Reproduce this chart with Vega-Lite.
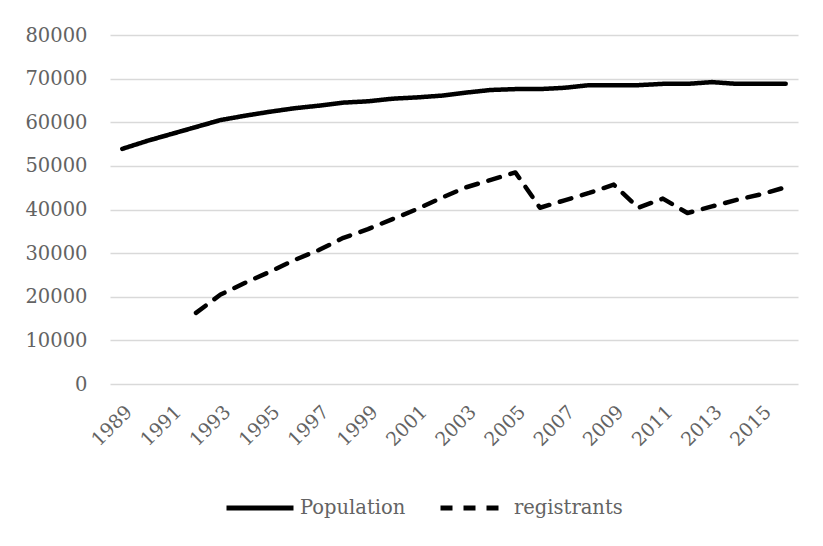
{
  "$schema": "https://vega.github.io/schema/vega-lite/v6.json",
  "width": 688,
  "height": 349,
  "autosize": {"type": "none"},
  "padding": {"left": 110, "top": 35, "right": 25, "bottom": 162},
  "background": "white",
  "config": {
    "view": {"stroke": null},
    "font": "DejaVu Serif"
  },
  "data": {
    "values": [
      {"year": 1989, "series": "Population", "value": 53900},
      {"year": 1990, "series": "Population", "value": 55700},
      {"year": 1991, "series": "Population", "value": 57300},
      {"year": 1992, "series": "Population", "value": 58900},
      {"year": 1993, "series": "Population", "value": 60500},
      {"year": 1994, "series": "Population", "value": 61500},
      {"year": 1995, "series": "Population", "value": 62400},
      {"year": 1996, "series": "Population", "value": 63200},
      {"year": 1997, "series": "Population", "value": 63800},
      {"year": 1998, "series": "Population", "value": 64500},
      {"year": 1999, "series": "Population", "value": 64800},
      {"year": 2000, "series": "Population", "value": 65400},
      {"year": 2001, "series": "Population", "value": 65700},
      {"year": 2002, "series": "Population", "value": 66100},
      {"year": 2003, "series": "Population", "value": 66800},
      {"year": 2004, "series": "Population", "value": 67400},
      {"year": 2005, "series": "Population", "value": 67600},
      {"year": 2006, "series": "Population", "value": 67600},
      {"year": 2007, "series": "Population", "value": 67900},
      {"year": 2008, "series": "Population", "value": 68500},
      {"year": 2009, "series": "Population", "value": 68500},
      {"year": 2010, "series": "Population", "value": 68500},
      {"year": 2011, "series": "Population", "value": 68800},
      {"year": 2012, "series": "Population", "value": 68800},
      {"year": 2013, "series": "Population", "value": 69200},
      {"year": 2014, "series": "Population", "value": 68800},
      {"year": 2015, "series": "Population", "value": 68800},
      {"year": 2016, "series": "Population", "value": 68800},
      {"year": 1992, "series": "registrants", "value": 16300},
      {"year": 1993, "series": "registrants", "value": 20500},
      {"year": 1994, "series": "registrants", "value": 23200},
      {"year": 1995, "series": "registrants", "value": 25700},
      {"year": 1996, "series": "registrants", "value": 28400},
      {"year": 1997, "series": "registrants", "value": 30700},
      {"year": 1998, "series": "registrants", "value": 33500},
      {"year": 1999, "series": "registrants", "value": 35500},
      {"year": 2000, "series": "registrants", "value": 37800},
      {"year": 2001, "series": "registrants", "value": 40100},
      {"year": 2002, "series": "registrants", "value": 42700},
      {"year": 2003, "series": "registrants", "value": 45100},
      {"year": 2004, "series": "registrants", "value": 46800},
      {"year": 2005, "series": "registrants", "value": 48500},
      {"year": 2006, "series": "registrants", "value": 40400},
      {"year": 2007, "series": "registrants", "value": 42100},
      {"year": 2008, "series": "registrants", "value": 43800},
      {"year": 2009, "series": "registrants", "value": 45700},
      {"year": 2010, "series": "registrants", "value": 40400},
      {"year": 2011, "series": "registrants", "value": 42500},
      {"year": 2012, "series": "registrants", "value": 39200},
      {"year": 2013, "series": "registrants", "value": 40700},
      {"year": 2014, "series": "registrants", "value": 42200},
      {"year": 2015, "series": "registrants", "value": 43500},
      {"year": 2016, "series": "registrants", "value": 45100}
    ]
  },
  "mark": {"type": "line", "color": "black", "strokeWidth": 4.5, "strokeCap": "round", "strokeJoin": "round"},
  "encoding": {
    "x": {
      "field": "year",
      "type": "quantitative",
      "scale": {"domain": [1988.5, 2016.5], "nice": false, "zero": false},
      "axis": {
        "title": null,
        "values": [1989, 1991, 1993, 1995, 1997, 1999, 2001, 2003, 2005, 2007, 2009, 2011, 2013, 2015],
        "format": "d",
        "labelAngle": -45,
        "labelPadding": 18,
        "labelFont": "DejaVu Serif",
        "labelFontSize": 19,
        "labelColor": "#636363",
        "ticks": false,
        "domain": false,
        "grid": false,
        "labelOverlap": false,
        "labelFlush": false
      }
    },
    "y": {
      "field": "value",
      "type": "quantitative",
      "scale": {"domain": [0, 80000], "nice": false},
      "axis": {
        "title": null,
        "values": [0, 10000, 20000, 30000, 40000, 50000, 60000, 70000, 80000],
        "format": "d",
        "labelFont": "DejaVu Serif",
        "labelFontSize": 19.5,
        "labelColor": "#636363",
        "labelOverlap": false,
        "ticks": false,
        "domain": false,
        "grid": true,
        "gridColor": "#d9d9d9",
        "gridWidth": 1.5,
        "labelPadding": 23
      }
    },
    "detail": {"field": "series"},
    "strokeDash": {
      "field": "series",
      "type": "nominal",
      "scale": {"domain": ["Population", "registrants"], "range": [[1, 0], [12, 11]]},
      "legend": {
        "title": null,
        "orient": "none",
        "legendX": 114,
        "legendY": 437,
        "direction": "horizontal",
        "symbolType": "stroke",
        "symbolSize": 4489,
        "symbolStrokeWidth": 5,
        "symbolStrokeColor": "black",
        "labelFont": "DejaVu Serif",
        "labelFontSize": 19.5,
        "labelColor": "#636363",
        "columnPadding": 24,
        "labelOffset": 4
      }
    }
  }
}
